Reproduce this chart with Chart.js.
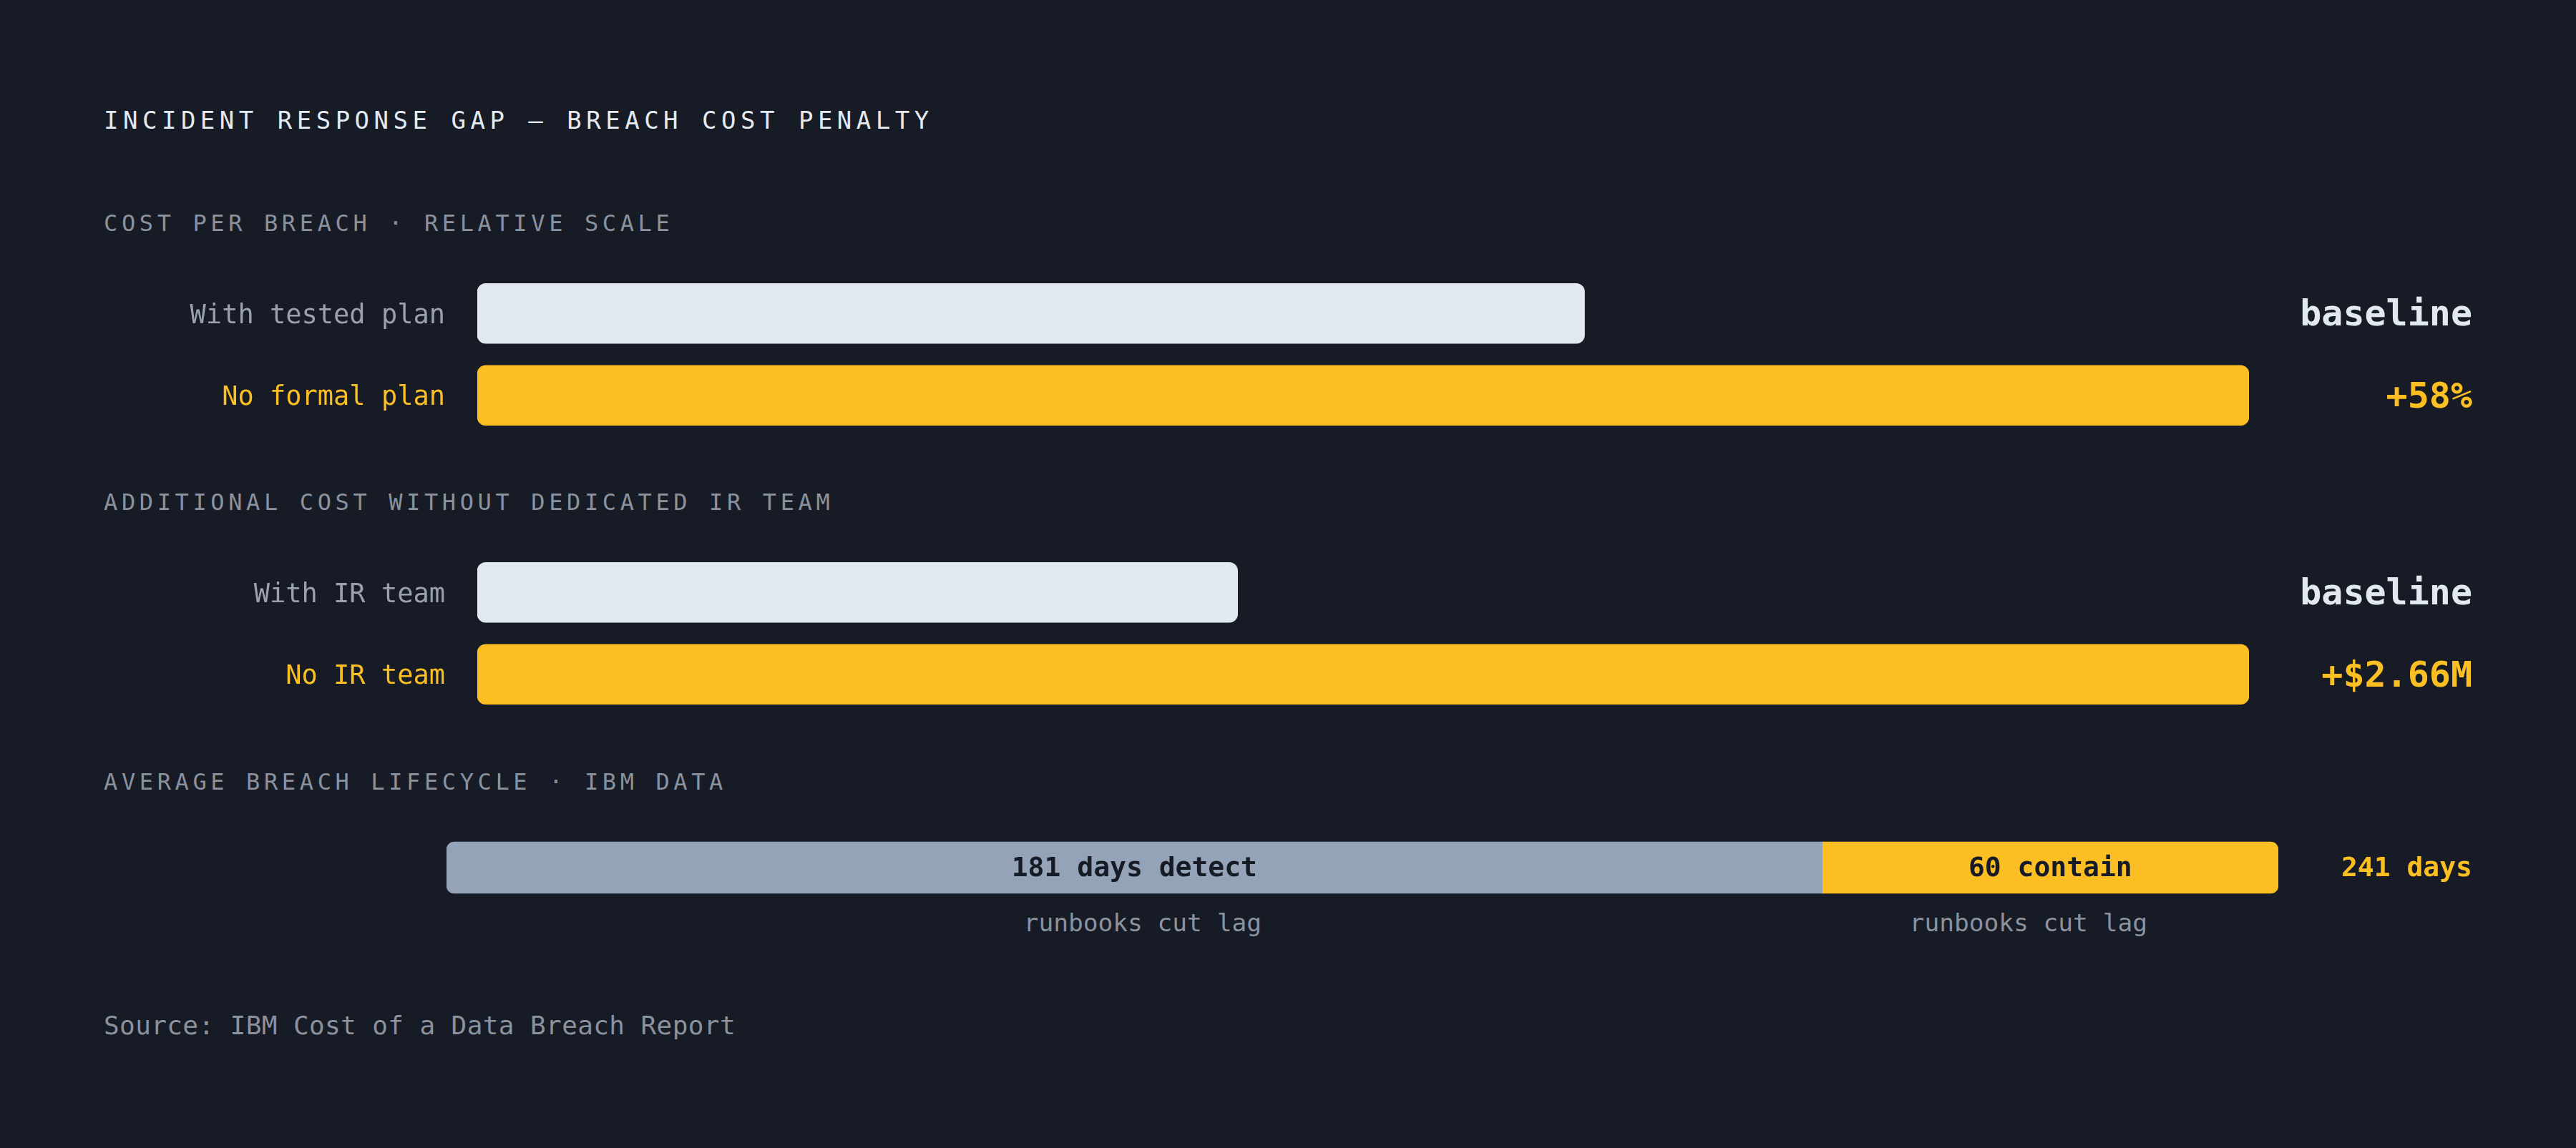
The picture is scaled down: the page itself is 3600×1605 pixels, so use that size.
<!DOCTYPE html>
<html>
<head>
<meta charset="utf-8">
<script src="https://cdn.jsdelivr.net/npm/chart.js@4.4.1/dist/chart.umd.min.js"></script>
<style>
    html, body {
        margin: 0;
        padding: 0;
        width: 3600px;
        height: 1605px;
        overflow: hidden;
        background: #161b26;
        font-family: "DejaVu Sans Mono", monospace;
    }
    .txt {
        position: absolute;
        left: 145px;
        line-height: 1;
        white-space: nowrap;
    }
    .title {
        top: 151px;
        font-size: 34px;
        letter-spacing: 6.5px;
        color: #e5e9f0;
    }
    .section {
        font-size: 32px;
        letter-spacing: 5.62px;
        color: #8b929e;
    }
    .source {
        top: 1416px;
        font-size: 36px;
        letter-spacing: 0.4px;
        color: #8b929e;
    }
    canvas {
        position: absolute;
        left: 0;
    }
    #notes {
        position: absolute;
        left: 667px;
        width: 2476px;
        top: 1273px;
        display: flex;
        font-size: 34.5px;
        line-height: 1;
        color: #8b929e;
    }
    #notes div {
        flex-basis: 0;
        text-align: center;
        white-space: nowrap;
    }
</style>
</head>
<body>
<div class="txt title">INCIDENT RESPONSE GAP — BREACH COST PENALTY</div>
<div class="txt section" style="top:296px">COST PER BREACH · RELATIVE SCALE</div>
<div class="txt section" style="top:686px">ADDITIONAL COST WITHOUT DEDICATED IR TEAM</div>
<div class="txt section" style="top:1077px">AVERAGE BREACH LIFECYCLE · IBM DATA</div>
<div class="txt source">Source: IBM Cost of a Data Breach Report</div>

<canvas id="planChart" width="3600" height="229" style="top:381px"></canvas>
<canvas id="teamChart" width="3600" height="229" style="top:771px"></canvas>
<canvas id="lifecycleChart" width="3600" height="100" style="top:1163px"></canvas>
<div id="notes"></div>

<script>
// cost per breach, relative scale (bar lengths as drawn)
const planLabels = ['With tested plan', 'No formal plan'];
const planValues = [100, 160];
const planTags = ['baseline', '+58%'];

// cost per breach, $M
const teamLabels = ['With IR team', 'No IR team'];
const teamValues = [2.0, 4.66];
const teamTags = ['baseline', '+$2.66M'];

// breach lifecycle, days
const phaseDays = [181, 60];
const phaseText = ['181 days detect', '60 contain'];
const phaseNotes = ['runbooks cut lag', 'runbooks cut lag'];
const lifecycleTags = ['241 days'];

const barColors = ['#e2e8f0', '#fbbf24'];
const labelColors = ['#9aa1ad', '#fbbf24'];
const tagColors = ['#e2e8f0', '#fbbf24'];
const phaseColors = ['#94a3b8', '#fbbf24'];

Chart.defaults.font.family = '"DejaVu Sans Mono", monospace';
Chart.defaults.animation = false;

document.addEventListener('DOMContentLoaded', function() {
    createRowChart('planChart', planLabels, planValues, planTags);
    createRowChart('teamChart', teamLabels, teamValues, teamTags);
    createLifecycleChart();
    fillNotes();
});

// fixed axis width, and no vertical padding so the bars fill the canvas height
function fixAxis(width) {
    return function(scale) {
        scale.width = width;
        scale.paddingTop = 0;
        scale.paddingBottom = 0;
    };
}

function createRowChart(id, labels, values, tags) {
    const ctx = document.getElementById(id).getContext('2d');

    new Chart(ctx, {
        type: 'bar',
        data: {
            labels: labels,
            datasets: [{
                data: values,
                backgroundColor: barColors,
                borderRadius: 12,
                borderSkipped: false,
                barThickness: 84
            }]
        },
        options: {
            indexAxis: 'y',
            responsive: false,
            layout: { padding: { left: 0, right: 145, top: 0, bottom: 0 } },
            plugins: {
                legend: { display: false },
                tooltip: { enabled: false }
            },
            scales: {
                x: {
                    display: false,
                    min: 0,
                    max: Math.max(...values)
                },
                y: {
                    position: 'left',
                    grid: { display: false, drawTicks: false },
                    border: { display: false },
                    afterFit: fixAxis(667),
                    ticks: {
                        padding: 45,
                        labelOffset: 4,
                        font: { size: 37 },
                        color: function(c) { return labelColors[c.index]; }
                    }
                },
                tags: {
                    type: 'category',
                    labels: tags,
                    position: 'right',
                    offset: true,
                    grid: { display: false, drawTicks: false },
                    border: { display: false },
                    afterFit: fixAxis(312),
                    ticks: {
                        padding: 0,
                        labelOffset: 4,
                        crossAlign: 'far',
                        font: { size: 50, weight: 'bold' },
                        color: function(c) { return tagColors[c.index]; }
                    }
                }
            }
        }
    });
}

// text inside each lifecycle segment
const segmentText = {
    id: 'segmentText',
    afterDatasetsDraw(chart) {
        const ctx = chart.ctx;
        ctx.save();
        ctx.font = 'bold 38px "DejaVu Sans Mono", monospace';
        ctx.fillStyle = '#161b26';
        ctx.textAlign = 'center';
        ctx.textBaseline = 'middle';
        chart.data.datasets.forEach(function(ds, i) {
            const bar = chart.getDatasetMeta(i).data[0];
            ctx.fillText(phaseText[i], (bar.x + bar.base) / 2, bar.y + 2);
        });
        ctx.restore();
    }
};

function createLifecycleChart() {
    const ctx = document.getElementById('lifecycleChart').getContext('2d');
    const total = phaseDays.reduce(function(a, b) { return a + b; }, 0);

    new Chart(ctx, {
        type: 'bar',
        data: {
            labels: ['Average breach lifecycle'],
            datasets: [
                {
                    label: 'Detect',
                    data: [phaseDays[0]],
                    backgroundColor: phaseColors[0],
                    borderRadius: { topLeft: 11, bottomLeft: 11, topRight: 0, bottomRight: 0 },
                    borderSkipped: false,
                    barThickness: 72
                },
                {
                    label: 'Contain',
                    data: [phaseDays[1]],
                    backgroundColor: phaseColors[1],
                    borderRadius: { topLeft: 0, bottomLeft: 0, topRight: 11, bottomRight: 11 },
                    borderSkipped: false,
                    barThickness: 72
                }
            ]
        },
        options: {
            indexAxis: 'y',
            responsive: false,
            layout: { padding: { left: 624, right: 145, top: 0, bottom: 0 } },
            plugins: {
                legend: { display: false },
                tooltip: { enabled: false }
            },
            scales: {
                x: { display: false, stacked: true, min: 0, max: total },
                y: { display: false, stacked: true },
                tags: {
                    type: 'category',
                    labels: lifecycleTags,
                    position: 'right',
                    offset: true,
                    grid: { display: false, drawTicks: false },
                    border: { display: false },
                    afterFit: fixAxis(271),
                    ticks: {
                        padding: 0,
                        labelOffset: 2,
                        crossAlign: 'far',
                        font: { size: 38, weight: 'bold' },
                        color: '#fbbf24'
                    }
                }
            }
        },
        plugins: [segmentText]
    });
}

function fillNotes() {
    const notes = document.getElementById('notes');
    phaseNotes.forEach(function(text, i) {
        const d = document.createElement('div');
        d.style.flexGrow = phaseDays[i];
        d.textContent = text;
        notes.appendChild(d);
    });
}
</script>
</body>
</html>
